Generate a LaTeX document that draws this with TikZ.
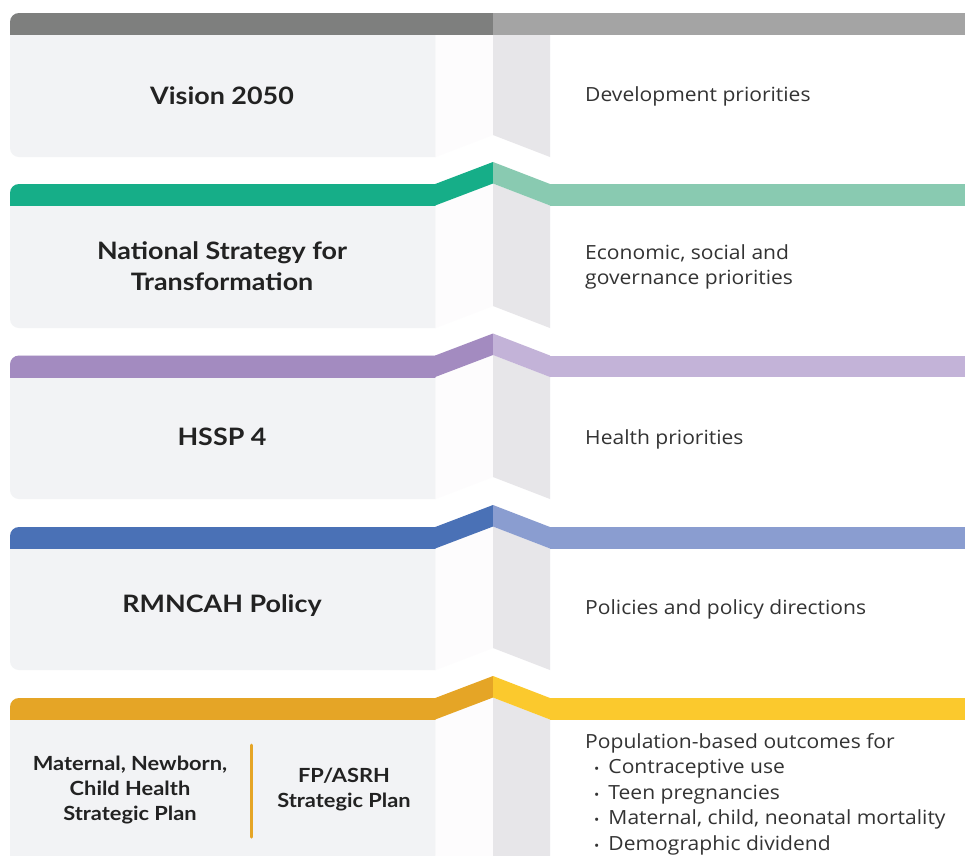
\documentclass[tikz,border=0pt]{standalone}
\usepackage{fontspec}
\setmainfont{Open Sans}[FakeStretch=1.08]
\newfontfamily\titlefont{Lato}[FakeStretch=1.12]
\definecolor{panel}{HTML}{F2F3F5}
\definecolor{foldA}{HTML}{FDFCFD}
\definecolor{foldB}{HTML}{E7E6E9}
\definecolor{ink}{HTML}{222222}
\definecolor{body}{HTML}{333333}
\definecolor{grayL}{HTML}{7E7F7E}
\definecolor{grayR}{HTML}{A4A4A4}
\definecolor{tealL}{HTML}{16AE88}
\definecolor{tealR}{HTML}{89CAB1}
\definecolor{purpL}{HTML}{A38BC0}
\definecolor{purpR}{HTML}{C3B3D8}
\definecolor{blueL}{HTML}{4A71B6}
\definecolor{blueR}{HTML}{8A9DD0}
\definecolor{gold}{HTML}{E5A526}
\definecolor{yell}{HTML}{FBC92D}

% geometry of the zig-zag fold
\def\xa{435.5}\def\xb{493}\def\xc{550}\def\xr{965}
\def\bandh{21.5}\def\rise{22}

% one tier: #1 top, #2 bottom, #3 left colour, #4 right colour, #5 fold lift of the band
\newcommand\tier[5]{%
  \begin{scope}
    \clip (0,#1-30) rectangle (\xa,#2+5);
    \fill[panel, rounded corners=9] (10,#1) rectangle (480,#2);
    \begin{scope}
      \clip (0,#1) rectangle (\xa,#1+\bandh);
      \fill[#3, rounded corners=9] (10,#1) rectangle (480,#2);
    \end{scope}
  \end{scope}
  % fold faces
  \fill[foldA] (\xa,#1+\bandh) -- (\xb,#1+\bandh-#5) -- (\xb,#2-\rise) -- (\xa,#2) -- cycle;
  \fill[foldB] (\xb,#1+\bandh-#5) -- (\xc,#1+\bandh) -- (\xc,#2) -- (\xb,#2-\rise) -- cycle;
  % coloured band
  \fill[#3] (\xa-0.3,#1) -- (\xb,#1-#5) -- (\xb,#1+\bandh-#5) -- (\xa-0.3,#1+\bandh) -- cycle;
  \fill[#4] (\xb,#1-#5) -- (\xc,#1) -- (\xc,#1+\bandh) -- (\xb,#1+\bandh-#5) -- cycle;
  \fill[#4] (\xc-0.3,#1) rectangle (\xr,#1+\bandh);
}

\newcommand\pt[1]{\hspace*{9pt}{\fontsize{13}{13}\selectfont\textbullet}\hspace{9pt}#1}

\tikzset{
  title/.style={font=\titlefont\bfseries\fontsize{24}{31}\selectfont, text=ink, align=center, inner sep=0pt},
  small title/.style={font=\titlefont\bfseries\fontsize{19.5}{25}\selectfont, text=ink, align=center, inner sep=0pt},
  desc/.style={font=\fontsize{19.5}{25.5}\selectfont, text=body, align=left, anchor=west, inner sep=0pt},
}

\begin{document}
\begin{tikzpicture}[x=1pt, y=-1pt]
\clip (0,0) rectangle (965,855);
\fill[white] (0,0) rectangle (965,855);

\tier{13}{157}{grayL}{grayR}{0}
\tier{184}{328}{tealL}{tealR}{22}
\tier{355.5}{499}{purpL}{purpR}{22}
\tier{527}{670}{blueL}{blueR}{22}
\tier{698}{880}{gold}{yell}{22}

% left column titles
\node[title] (vision) at (222,96) {Vision 2050};
\node[title] (nst) at (222,266.5) {National Strategy for\\Transformation};
\node[title] (hssp) at (222,437) {HSSP 4};
\node[title] (rmncah) at (222,606) {RMNCAH Policy};
\node[small title] (mnch) at (130,789.5) {Maternal, Newborn,\\Child Health\\Strategic Plan};
\node[small title] (fpasrh) at (344,789.5) {FP/ASRH\\Strategic Plan};
\draw[gold, line width=3, line cap=round] (251,745) -- (251,837);

% right column descriptions
\node[desc] (dev) at (585,96) {Development priorities};
\node[desc] (eco) at (585,267) {Economic, social and\\governance priorities};
\node[desc] (health) at (585,439) {Health priorities};
\node[desc] (pol) at (585,609) {Policies and policy directions};
\node[desc, anchor=north west] (pop) at (585,733) {Population-based outcomes for\\
\pt{Contraceptive use}\\
\pt{Teen pregnancies}\\
\pt{Maternal, child, neonatal mortality}\\
\pt{Demographic dividend}};
\end{tikzpicture}
\end{document}
